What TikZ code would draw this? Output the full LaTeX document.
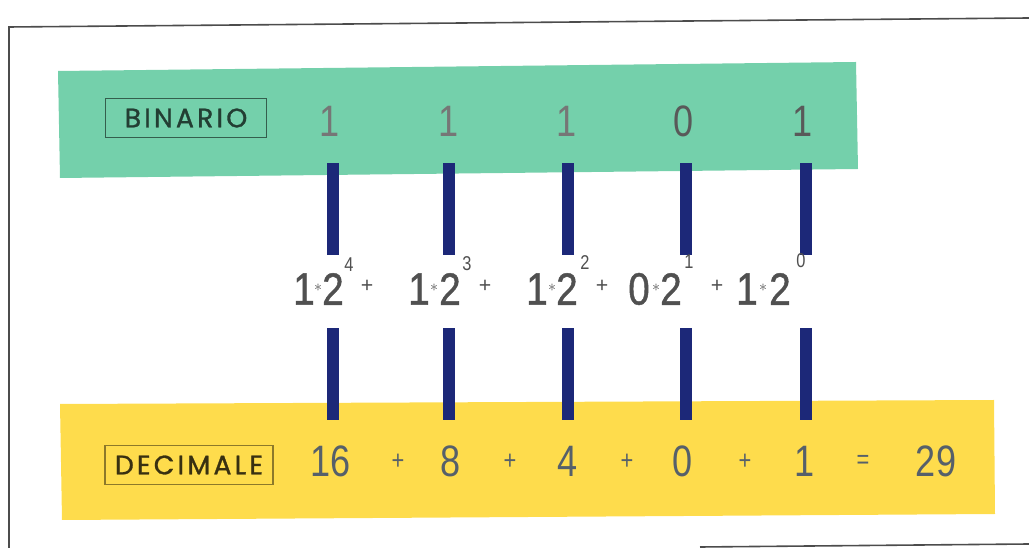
\documentclass[tikz,border=0pt]{standalone}
\usepackage{fontspec}
\setmainfont{Liberation Sans}
\newfontfamily\labelfont[LetterSpace=12,FakeBold=1.2]{Poppins}
\newfontfamily\digitfont[FakeStretch=0.82]{Liberation Sans}
\newfontfamily\heavydigitfont[FakeStretch=0.85,FakeBold=1]{Liberation Sans}
\usepackage{tikz}

\definecolor{bingreen}{HTML}{74D0AB}
\definecolor{decyellow}{HTML}{FEDC4C}
\definecolor{barblue}{HTML}{1C2878}
\definecolor{bindigit}{HTML}{767676}
\definecolor{decdigit}{HTML}{56606A}
\definecolor{expdigit}{HTML}{505050}

\tikzset{
  bar/.style={fill=barblue,draw=none,minimum width=9pt,minimum height=69pt,inner sep=0pt},
  bindig/.style={text=bindigit,font=\digitfont\fontsize{33}{34}\selectfont},
  decdig/.style={text=decdigit,font=\digitfont\fontsize{33}{34}\selectfont},
  decop/.style={text=decdigit,font=\digitfont\fontsize{20}{20}\selectfont},
  expdig/.style={text=expdigit,font=\heavydigitfont\fontsize{34}{35}\selectfont,inner sep=0pt},
  expop/.style={text=expdigit,font=\fontsize{16}{17}\selectfont,inner sep=0pt},
  expstar/.style={text=expdigit,font=\fontsize{12}{13}\selectfont,inner sep=0pt},
  expsup/.style={text=expdigit,font=\digitfont\fontsize{15}{16}\selectfont,inner sep=0pt},
  tag/.style={draw,line width=0.8pt,inner xsep=0pt,inner ysep=0pt,minimum height=29pt,font=\labelfont\fontsize{20}{21}\selectfont},
}

\begin{document}
\begin{tikzpicture}[x=0.75pt,y=-0.75pt]
\useasboundingbox (0,0) rectangle (1029,548);
% frame
\draw[line width=1.2pt,black!70] (9,548) -- (9,27) -- (1029,18);
\draw[line width=1.2pt,black!70] (700,547) -- (1029,544);
% bands
\fill[bingreen] (58,71) -- (856,62) -- (858,169) -- (60,178) -- cycle;
\fill[decyellow] (60,404) -- (994,400) -- (995,514) -- (62,520) -- cycle;
% labels
\node[tag,minimum width=121pt,draw=black!55!bingreen,text=black!70!bingreen] (bin) at (186,118) {BINARIO};
\node[tag,minimum width=126pt,draw=black!45!decyellow,text=black!78!decyellow] (dec) at (189,465) {DECIMALE};
% binary digits
\node[bindig] (b4) at (330,121) {1};
\node[bindig] (b3) at (449,121) {1};
\node[bindig] (b2) at (567,121) {1};
\node[bindig,text=black!65] (b1) at (684,121) {0};
\node[bindig,text=black!65] (b0) at (803,121) {1};
% bars
\foreach \x/\n in {333/4,449/3,568/2,686/1,806/0}{
  \node[bar] (top\n) at (\x,209) {};
  \node[bar] (bot\n) at (\x,374) {};
}
% expression
\node[expdig] (e4) at (304,289) {1};
\node[expstar] (m4) at (318,288) {$\ast$};
\node[expdig] (p4) at (333,289) {2};
\node[expsup] (s4) at (349,265) {4};
\node[expop] (a4) at (367,286) {+};
\node[expdig] (e3) at (419,289) {1};
\node[expstar] (m3) at (434,288) {$\ast$};
\node[expdig] (p3) at (450,289) {2};
\node[expsup] (s3) at (467,264) {3};
\node[expop] (a3) at (485,286) {+};
\node[expdig] (e2) at (537,289) {1};
\node[expstar] (m2) at (552,288) {$\ast$};
\node[expdig] (p2) at (567,289) {2};
\node[expsup] (s2) at (585,263) {2};
\node[expop] (a2) at (602,286) {+};
\node[expdig] (e1) at (639,289) {0};
\node[expstar] (m1) at (656,288) {$\ast$};
\node[expdig] (p1) at (671,289) {2};
\node[expsup] (s1) at (689,262) {1};
\node[expop] (a1) at (717,286) {+};
\node[expdig] (e0) at (747,289) {1};
\node[expstar] (m0) at (763,288) {$\ast$};
\node[expdig] (p0) at (780,289) {2};
\node[expsup] (s0) at (801,261) {0};
% decimal row
\node[decdig] (d4) at (331,461) {16};
\node[decop] (q4) at (398,462) {+};
\node[decdig] (d3) at (451,461) {8};
\node[decop] (q3) at (510,462) {+};
\node[decdig] (d2) at (568,461) {4};
\node[decop] (q2) at (627,462) {+};
\node[decdig] (d1) at (683,461) {0};
\node[decop] (q1) at (745,462) {+};
\node[decdig] (d0) at (805,461) {1};
\node[decop] (eq) at (863,462) {=};
\node[decdig] (res) at (936,461) {29};
\end{tikzpicture}
\end{document}
